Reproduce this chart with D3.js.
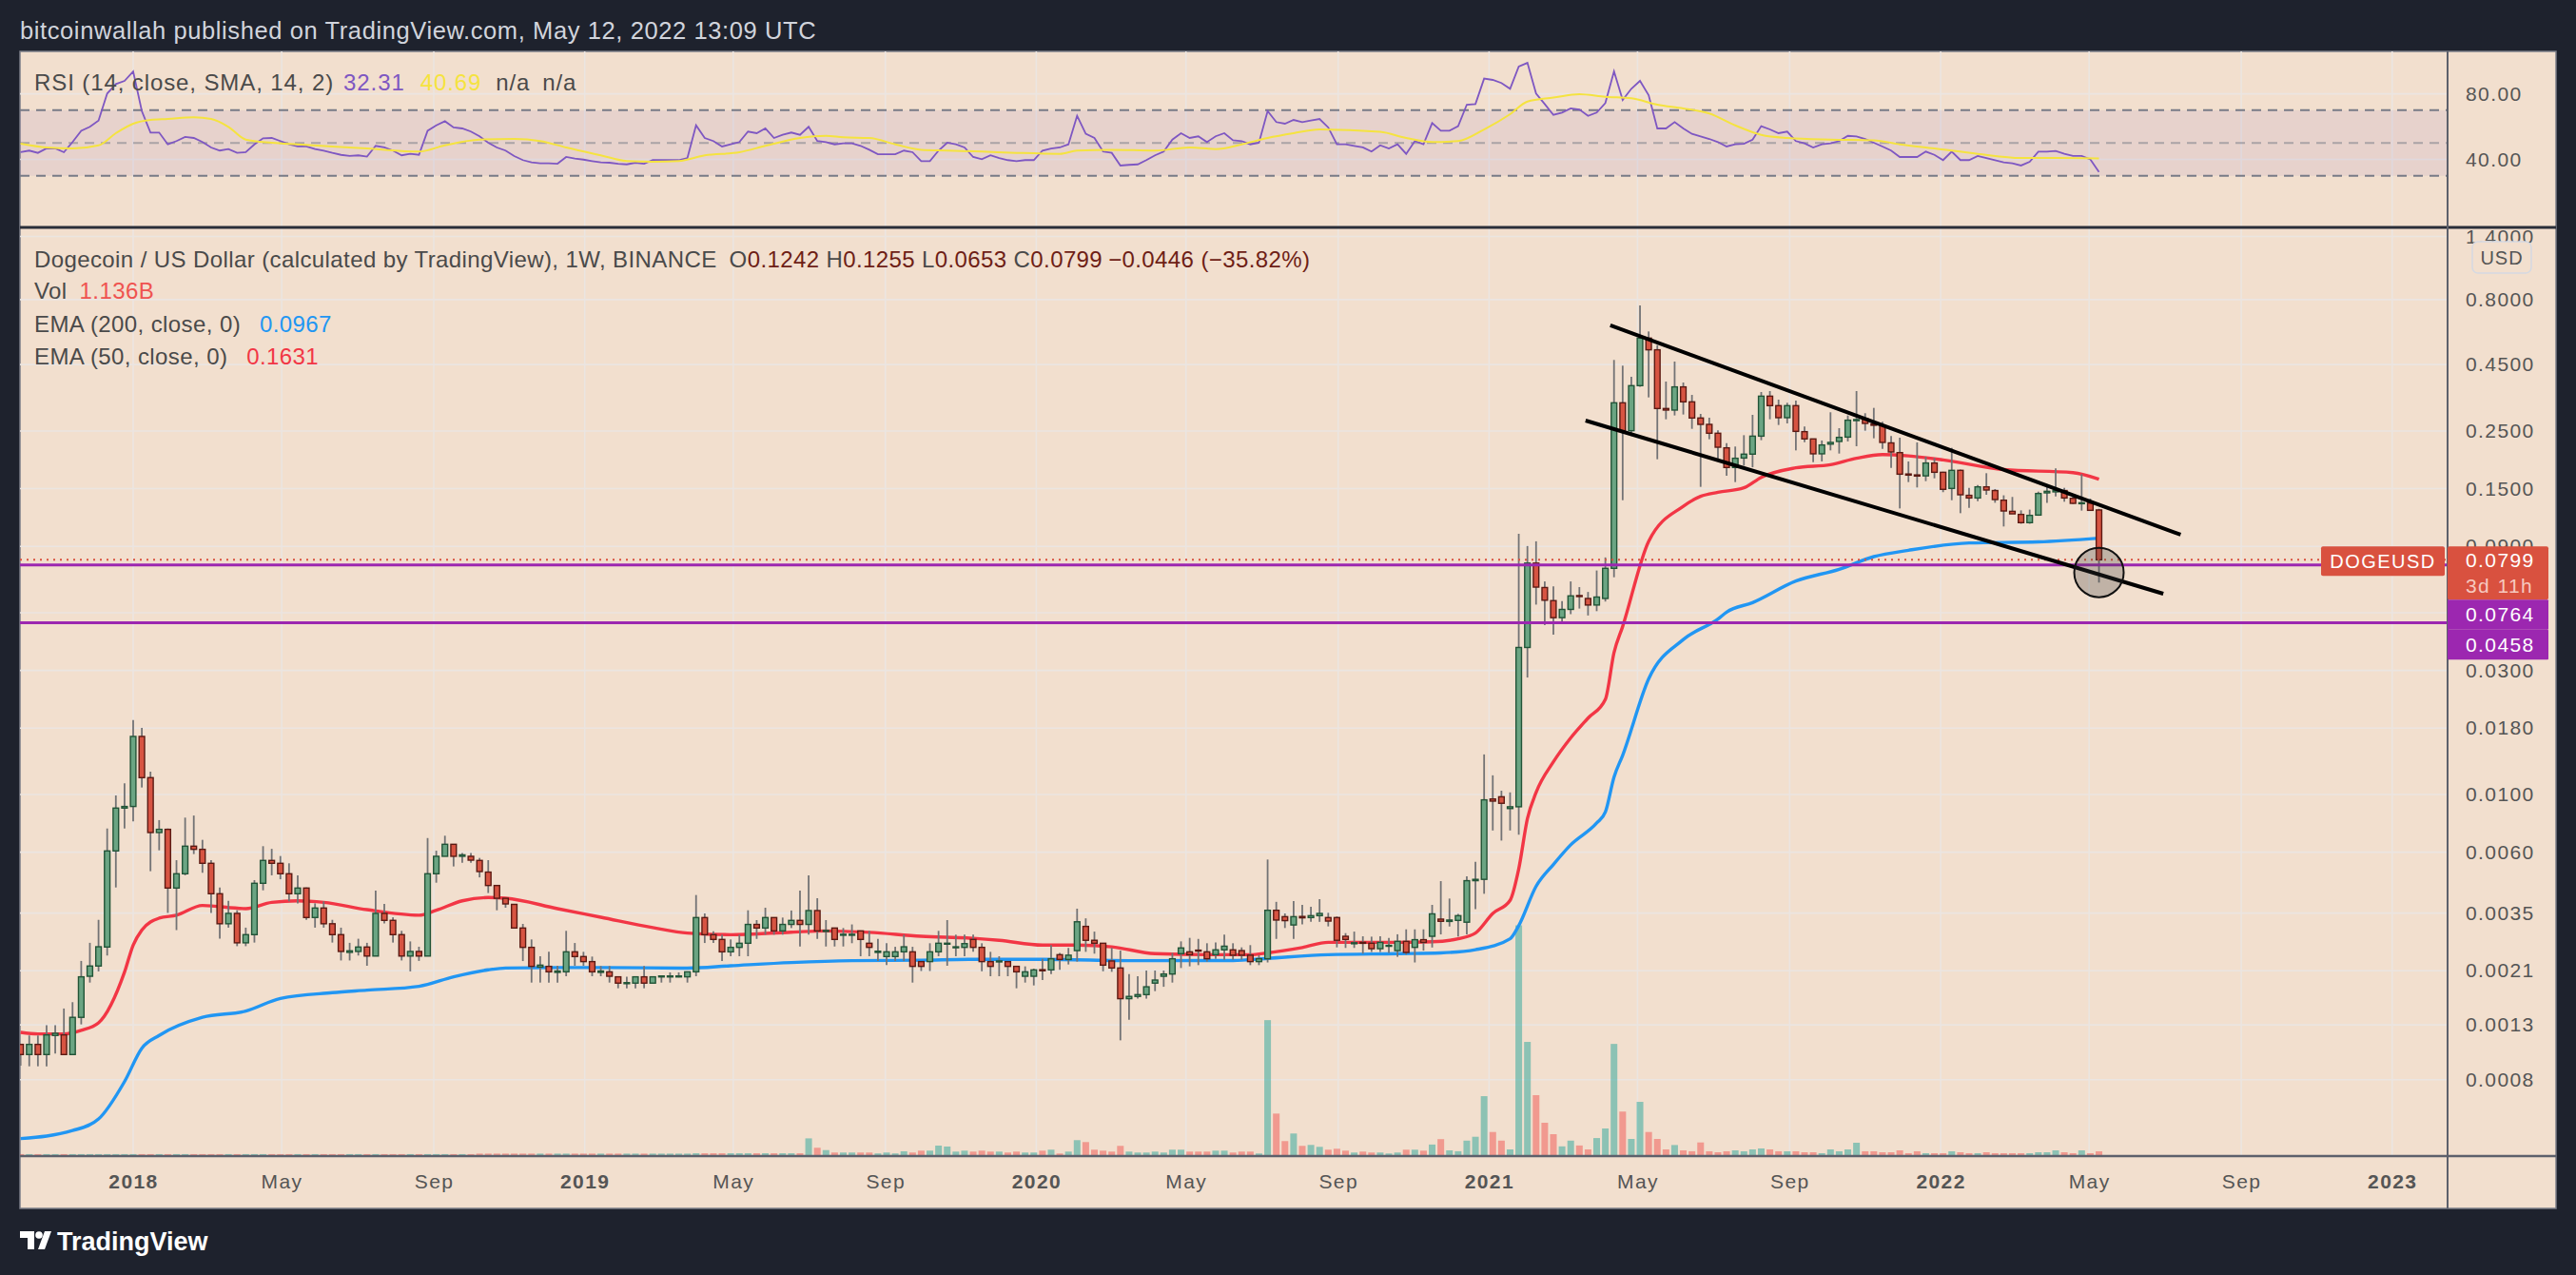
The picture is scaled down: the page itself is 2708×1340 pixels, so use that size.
<!DOCTYPE html>
<html>
<head>
<meta charset="utf-8">
<title>DOGEUSD 1W</title>
<script src="https://cdn.jsdelivr.net/npm/d3@7"></script>
<style>
  html, body { margin: 0; padding: 0; background: #1e222d; }
  svg { display: block; font-family: "Liberation Sans", Arial, sans-serif; }
</style>
</head>
<body>
<svg id="chart"></svg>
<script>
// weekly bars, bar 0 = week of 2 Oct 2017, last bar = week of 9 May 2022
const firstWeek = Date.UTC(2017, 9, 2);
const WEEK = 7 * 864e5;

const open = [
  0.001094, 0.001000, 0.001094, 0.001000, 0.001184, 0.001190, 0.001000, 0.001390, 0.002000, 0.002190,
  0.002591, 0.006067, 0.008867, 0.008993, 0.01672, 0.01161, 0.00714, 0.007345, 0.004368, 0.004957,
  0.006328, 0.006153, 0.005438, 0.004153, 0.003184, 0.00349, 0.002689, 0.002891, 0.004556, 0.005577,
  0.005438, 0.004957, 0.004153, 0.004368, 0.003365, 0.00366, 0.003184, 0.002891, 0.002471, 0.002491,
  0.002591, 0.002392, 0.00349, 0.003281, 0.002891, 0.002392, 0.002491, 0.002392, 0.004957, 0.005785,
  0.006435, 0.005785, 0.005785, 0.005577, 0.00503, 0.004467, 0.00399, 0.00378, 0.003066, 0.002583,
  0.00217, 0.002183, 0.00207, 0.00208, 0.002483, 0.002381, 0.002277, 0.00207, 0.00208, 0.00199,
  0.001873, 0.001882, 0.00199, 0.001882, 0.001988, 0.001988, 0.001988, 0.00199, 0.00208, 0.003363,
  0.00289, 0.002771, 0.002483, 0.002583, 0.002679, 0.003165, 0.003066, 0.003363, 0.002989, 0.003165,
  0.00328, 0.003165, 0.003578, 0.00298, 0.003066, 0.00288, 0.00288, 0.002989, 0.002679, 0.00247,
  0.002381, 0.002381, 0.002483, 0.002483, 0.002277, 0.002277, 0.002483, 0.00267, 0.00258, 0.002583,
  0.002771, 0.002583, 0.002277, 0.002277, 0.002277, 0.002183, 0.002, 0.002, 0.00212, 0.002116,
  0.002421, 0.00232, 0.00251, 0.00311, 0.00275, 0.002679, 0.00229, 0.002152, 0.00164, 0.001673,
  0.0017, 0.001882, 0.002, 0.00204, 0.002443, 0.002483, 0.00252, 0.002483, 0.002421, 0.002527,
  0.002527, 0.00251, 0.00241, 0.002277, 0.002335, 0.003587, 0.00339, 0.00315, 0.003396, 0.003363,
  0.00342, 0.003363, 0.003363, 0.002849, 0.00267, 0.0027, 0.002679, 0.002553, 0.00261, 0.00251,
  0.002724, 0.002583, 0.002765, 0.002849, 0.003317, 0.00325, 0.00328, 0.003228, 0.004662, 0.004717,
  0.00961, 0.0098, 0.00883, 0.00897, 0.03676, 0.07758, 0.0625, 0.05565, 0.04786, 0.05149,
  0.0582, 0.05672, 0.05353, 0.05672, 0.07407, 0.3208, 0.2506, 0.3734, 0.5689, 0.5129,
  0.305, 0.3008, 0.3693, 0.3235, 0.2804, 0.265, 0.245, 0.2153, 0.1809, 0.1967,
  0.2036, 0.2388, 0.3402, 0.3128, 0.2812, 0.3128, 0.2485, 0.233, 0.2042, 0.2225,
  0.2278, 0.2368, 0.274, 0.279, 0.266, 0.2621, 0.2249, 0.2064, 0.1708, 0.1694,
  0.168, 0.1882, 0.1734, 0.1503, 0.1764, 0.1414, 0.1381, 0.1524, 0.1475, 0.1354,
  0.1227, 0.1194, 0.111, 0.1187, 0.1445, 0.1458, 0.1475, 0.1377, 0.1314, 0.132,
  0.1242
];
const high = [
  0.001094, 0.001184, 0.001184, 0.001295, 0.001295, 0.001503, 0.00159, 0.002291, 0.002689, 0.003296,
  0.0074, 0.009917, 0.01104, 0.01935, 0.01804, 0.01224, 0.00797, 0.0074, 0.00559, 0.008149,
  0.0083, 0.006693, 0.00559, 0.00439, 0.0039, 0.003589, 0.003076, 0.004686, 0.006328, 0.00618,
  0.0058, 0.005438, 0.004888, 0.00439, 0.003815, 0.003882, 0.003296, 0.003076, 0.002689, 0.002788,
  0.002689, 0.004271, 0.003797, 0.00337, 0.00299, 0.002723, 0.002597, 0.0068, 0.00608, 0.006942,
  0.006435, 0.00595, 0.00595, 0.005703, 0.005591, 0.004467, 0.00399, 0.00378, 0.00318, 0.002771,
  0.002388, 0.002483, 0.002195, 0.00299, 0.002685, 0.002483, 0.002381, 0.00219, 0.00219, 0.00199,
  0.00199, 0.00199, 0.00219, 0.00199, 0.002005, 0.00207, 0.00207, 0.00208, 0.004106, 0.003488,
  0.00298, 0.00289, 0.002771, 0.00289, 0.003587, 0.003289, 0.003669, 0.003363, 0.003363, 0.00358,
  0.00427, 0.004887, 0.003992, 0.003289, 0.003066, 0.003066, 0.003165, 0.002989, 0.002989, 0.002784,
  0.002679, 0.002596, 0.00289, 0.002596, 0.002277, 0.002679, 0.002989, 0.003289, 0.00289, 0.00289,
  0.00289, 0.002679, 0.002483, 0.002388, 0.002277, 0.002183, 0.002183, 0.00214, 0.002335, 0.002635,
  0.00246, 0.00257, 0.003638, 0.00334, 0.00297, 0.002679, 0.00257, 0.00251, 0.00204, 0.002,
  0.002104, 0.002104, 0.002104, 0.00246, 0.002724, 0.00281, 0.002784, 0.002679, 0.0027, 0.00289,
  0.002679, 0.002583, 0.002635, 0.00241, 0.005623, 0.003865, 0.003488, 0.003892, 0.003764, 0.003701,
  0.003958, 0.003508, 0.003396, 0.00293, 0.00297, 0.002849, 0.00284, 0.002849, 0.00281, 0.0029,
  0.00303, 0.00303, 0.00303, 0.003764, 0.004644, 0.00398, 0.003475, 0.004846, 0.005507, 0.01426,
  0.01185, 0.01034, 0.01019, 0.1006, 0.09024, 0.0941, 0.06597, 0.06321, 0.05542, 0.06597,
  0.06273, 0.0601, 0.07267, 0.08159, 0.4688, 0.4457, 0.404, 0.7597, 0.6034, 0.5349,
  0.3873, 0.4623, 0.384, 0.344, 0.2908, 0.2812, 0.2513, 0.2246, 0.2178, 0.2408,
  0.2884, 0.3529, 0.356, 0.33, 0.3208, 0.3272, 0.26, 0.233, 0.2298, 0.295,
  0.2563, 0.2868, 0.356, 0.2925, 0.3067, 0.2711, 0.2388, 0.2355, 0.1908, 0.2259,
  0.1991, 0.1968, 0.1742, 0.2153, 0.1776, 0.1511, 0.155, 0.172, 0.1495, 0.1414,
  0.1394, 0.1238, 0.1246, 0.1461, 0.1524, 0.1794, 0.1511, 0.1417, 0.1705, 0.1374,
  0.1255
];
const low = [
  0.000906, 0.000901, 0.000901, 0.000901, 0.001008, 0.001, 0.001, 0.001306, 0.001891, 0.002088,
  0.002403, 0.00439, 0.0074, 0.007877, 0.01064, 0.00507, 0.0061, 0.003505, 0.00301, 0.004888,
  0.0059, 0.005, 0.003505, 0.002788, 0.003076, 0.00261, 0.00261, 0.002695, 0.00428, 0.004888,
  0.00472, 0.003882, 0.003815, 0.003296, 0.003076, 0.003076, 0.002695, 0.0023, 0.0023, 0.002403,
  0.002195, 0.002392, 0.00319, 0.002695, 0.0023, 0.002088, 0.002291, 0.002392, 0.00458, 0.005785,
  0.005288, 0.00546, 0.00546, 0.0048, 0.00418, 0.003587, 0.003669, 0.003066, 0.002288, 0.001891,
  0.001891, 0.001891, 0.001891, 0.002, 0.002195, 0.002195, 0.002, 0.002, 0.001891, 0.001798,
  0.001798, 0.001798, 0.001798, 0.001882, 0.001891, 0.001891, 0.00198, 0.001891, 0.002, 0.002685,
  0.002685, 0.002288, 0.002388, 0.002388, 0.002388, 0.002784, 0.00289, 0.00289, 0.00289, 0.003066,
  0.002603, 0.00289, 0.002784, 0.002603, 0.002603, 0.002603, 0.00268, 0.002388, 0.002388, 0.002288,
  0.002207, 0.002288, 0.002288, 0.001891, 0.002095, 0.002095, 0.002388, 0.002195, 0.002388, 0.002388,
  0.002483, 0.00209, 0.002, 0.002, 0.002, 0.001798, 0.001891, 0.001844, 0.001934, 0.00204,
  0.002116, 0.00222, 0.002277, 0.002483, 0.002443, 0.00209, 0.00208, 0.001134, 0.001361, 0.00164,
  0.00164, 0.001753, 0.001822, 0.001891, 0.002152, 0.002183, 0.002207, 0.002277, 0.002335, 0.002315,
  0.002315, 0.002315, 0.002207, 0.002207, 0.00226, 0.002784, 0.003066, 0.002784, 0.003165, 0.003238,
  0.003238, 0.00311, 0.002583, 0.00257, 0.00257, 0.002443, 0.00248, 0.00248, 0.00246, 0.002375,
  0.002421, 0.00226, 0.00251, 0.00258, 0.002897, 0.003107, 0.002842, 0.002897, 0.003626, 0.004151,
  0.00727, 0.00665, 0.00727, 0.007, 0.02817, 0.05373, 0.04481, 0.04115, 0.04516, 0.04936,
  0.05188, 0.04879, 0.0507, 0.05521, 0.06845, 0.1354, 0.2388, 0.3693, 0.3365, 0.1946,
  0.2772, 0.2868, 0.2892, 0.2548, 0.1524, 0.2323, 0.1946, 0.1681, 0.159, 0.184,
  0.1813, 0.2304, 0.2772, 0.2636, 0.2673, 0.2105, 0.2265, 0.1897, 0.191, 0.2105,
  0.2047, 0.2278, 0.2184, 0.2506, 0.2343, 0.2135, 0.1804, 0.1259, 0.159, 0.1516,
  0.1603, 0.1644, 0.1454, 0.1354, 0.1207, 0.1266, 0.1343, 0.1421, 0.1324, 0.1073,
  0.12, 0.1099, 0.1099, 0.118, 0.1324, 0.1401, 0.1336, 0.131, 0.1235, 0.1231,
  0.0653
];
const close = [
  0.001, 0.001094, 0.001, 0.00119, 0.001207, 0.001, 0.00139, 0.00199, 0.00219, 0.002597,
  0.006067, 0.008867, 0.008993, 0.01672, 0.01161, 0.00714, 0.007345, 0.004368, 0.004957, 0.006328,
  0.006153, 0.005438, 0.004153, 0.003184, 0.00349, 0.002689, 0.002891, 0.004556, 0.005577, 0.005438,
  0.004957, 0.004153, 0.004368, 0.003365, 0.00366, 0.003184, 0.002891, 0.002491, 0.002505, 0.002591,
  0.002392, 0.00349, 0.003281, 0.002891, 0.002392, 0.002491, 0.002392, 0.004957, 0.005785, 0.006435,
  0.005785, 0.00586, 0.00559, 0.005054, 0.004467, 0.00399, 0.003795, 0.003066, 0.002583, 0.002183,
  0.002207, 0.00208, 0.002095, 0.002483, 0.002381, 0.002277, 0.00208, 0.002095, 0.002, 0.001882,
  0.00189, 0.00199, 0.001882, 0.00199, 0.002005, 0.002005, 0.002005, 0.00208, 0.003363, 0.00289,
  0.002771, 0.002483, 0.002583, 0.002679, 0.003165, 0.003066, 0.003363, 0.002989, 0.003165, 0.00328,
  0.003165, 0.003578, 0.002989, 0.003, 0.002771, 0.0029, 0.0029, 0.002771, 0.002583, 0.002497,
  0.002483, 0.002483, 0.002596, 0.002183, 0.002183, 0.002483, 0.002679, 0.00268, 0.002596, 0.00267,
  0.002583, 0.002277, 0.002183, 0.00229, 0.002183, 0.00208, 0.00208, 0.002116, 0.0021, 0.002335,
  0.00232, 0.00241, 0.00324, 0.00275, 0.002679, 0.002207, 0.002152, 0.00164, 0.001673, 0.0017,
  0.001822, 0.001934, 0.00204, 0.002335, 0.00257, 0.002421, 0.0025, 0.002335, 0.002527, 0.00261,
  0.00241, 0.00241, 0.002277, 0.002335, 0.003587, 0.00329, 0.003273, 0.00339, 0.003355, 0.00342,
  0.003488, 0.00326, 0.00275, 0.002771, 0.00269, 0.00268, 0.002553, 0.0027, 0.00263, 0.002724,
  0.00247, 0.002765, 0.0027, 0.003475, 0.003254, 0.00329, 0.00342, 0.004662, 0.004717, 0.009537,
  0.00943, 0.00925, 0.00897, 0.03676, 0.07758, 0.06273, 0.05585, 0.04786, 0.05149, 0.05805,
  0.0577, 0.05353, 0.05745, 0.07409, 0.3208, 0.2506, 0.3734, 0.5689, 0.5129, 0.305,
  0.3008, 0.3693, 0.3235, 0.2804, 0.265, 0.245, 0.2165, 0.1809, 0.1963, 0.2036,
  0.2388, 0.3402, 0.3128, 0.2812, 0.3128, 0.2491, 0.233, 0.2042, 0.2208, 0.2259,
  0.2362, 0.275, 0.2765, 0.2673, 0.2629, 0.2259, 0.2076, 0.1705, 0.1691, 0.1677,
  0.1882, 0.1734, 0.1491, 0.1764, 0.1421, 0.1381, 0.1524, 0.1482, 0.1362, 0.1231,
  0.12, 0.111, 0.1184, 0.1437, 0.1465, 0.1478, 0.1381, 0.1317, 0.1324, 0.1238,
  0.0799
];
// volume, billions
const volume = [
  0.3, 0.3, 0.3, 0.3, 0.3, 0.3, 0.3, 0.3, 0.3, 0.3,
  0.3, 0.3, 0.3, 0.3, 0.3, 0.3, 0.3, 0.3, 0.3, 0.3,
  0.3, 0.3, 0.3, 0.3, 0.3, 0.3, 0.3, 0.3, 0.3, 0.3,
  0.3, 0.3, 0.3, 0.3, 0.3, 0.3, 0.3, 0.3, 0.3, 0.3,
  0.3, 0.3, 0.3, 0.3, 0.3, 0.3, 0.3, 0.3, 0.3, 0.3,
  0.3, 0.3, 0.3, 0.45, 0.45, 0.45, 0.45, 0.45, 0.45, 0.45,
  0.45, 0.45, 0.45, 0.45, 0.45, 0.45, 0.45, 0.45, 0.45, 0.45,
  0.45, 0.45, 0.45, 0.45, 0.45, 0.45, 0.45, 0.45, 0.55, 0.55,
  0.55, 0.55, 0.55, 0.55, 0.55, 0.55, 0.55, 0.55, 0.55, 0.55,
  0.55, 5.0, 2.2, 1.5, 0.77, 0.77, 0.77, 0.77, 0.77, 0.5,
  0.77, 0.5, 1.14, 0.77, 1.33, 1.33, 2.84, 2.56, 1.05, 1.33,
  1.05, 1.33, 1.05, 1.05, 0.77, 1.05, 0.77, 0.77, 1.33, 1.62,
  0.48, 1.05, 4.46, 3.89, 1.62, 1.33, 1.05, 2.76, 1.05, 0.77,
  0.77, 1.05, 0.77, 1.62, 1.62, 1.05, 1.05, 1.05, 1.33, 1.33,
  0.77, 1.05, 1.05, 0.48, 40.3, 12.4, 4.18, 6.45, 2.76, 3.04,
  2.47, 1.62, 1.9, 1.33, 0.77, 1.05, 0.77, 0.77, 0.48, 0.77,
  1.62, 1.62, 1.33, 3.15, 4.77, 1.42, 1.16, 4.32, 5.48, 17.6,
  6.9, 4.32, 1.7, 68.6, 33.8, 17.9, 9.66, 6.25, 2.61, 4.32,
  2.87, 1.7, 5.09, 7.95, 33.2, 13.0, 4.83, 15.9, 6.9, 4.83,
  1.7, 3.01, 1.42, 1.16, 3.78, 1.14, 0.85, 1.14, 1.42, 1.14,
  1.7, 1.99, 1.7, 1.14, 1.14, 1.14, 0.85, 0.85, 0.57, 1.7,
  1.14, 1.7, 3.69, 1.14, 1.14, 0.85, 0.85, 1.42, 0.57, 1.14,
  0.57, 0.57, 0.57, 1.14, 0.85, 0.57, 0.57, 0.85, 0.57, 0.57,
  0.57, 0.57, 0.57, 0.85, 0.85, 1.42, 0.85, 0.57, 1.42, 0.57,
  1.136
];
// RSI(14) per bar
const rsi = [
  44.4, 45.4, 44.0, 46.7, 46.7, 44.4, 50.6, 57.5, 59.9, 63.7,
  80.2, 86.0, 87.9, 93.7, 69.5, 56.4, 56.4, 49.2, 51.2, 53.7,
  53.1, 50.6, 47.3, 45.4, 46.3, 44.0, 44.4, 49.2, 52.9, 53.1,
  51.2, 49.2, 47.9, 47.9, 46.3, 45.4, 44.0, 42.8, 42.1, 42.5,
  41.7, 48.3, 47.3, 45.4, 42.5, 43.4, 42.8, 57.5, 60.8, 63.3,
  59.5, 58.9, 57.0, 54.1, 50.2, 47.3, 45.4, 42.1, 39.6, 38.2,
  37.6, 37.6, 37.4, 41.5, 40.5, 39.9, 39.0, 38.2, 38.0, 37.4,
  37.0, 38.0, 37.4, 39.6, 39.6, 39.6, 39.6, 40.9, 60.8, 53.1,
  51.2, 47.9, 49.2, 50.6, 57.0, 56.0, 58.9, 53.1, 55.0, 56.4,
  55.0, 59.9, 51.2, 50.6, 49.2, 49.8, 49.8, 48.3, 45.9, 43.2,
  43.2, 43.2, 45.4, 44.4, 39.0, 39.0, 45.4, 50.2, 49.2, 47.3,
  41.5, 40.1, 42.5, 40.9, 39.6, 39.0, 39.6, 39.6, 45.4, 46.7,
  47.3, 49.2, 66.6, 55.6, 53.1, 44.8, 44.0, 36.3, 36.7, 37.0,
  39.6, 42.5, 44.8, 52.1, 56.0, 53.1, 54.1, 50.6, 54.1, 56.0,
  51.7, 51.2, 49.2, 50.2, 69.5, 62.8, 61.8, 64.1, 62.8, 63.7,
  64.7, 59.5, 49.2, 49.2, 48.3, 47.3, 44.8, 48.6, 46.7, 49.2,
  43.4, 51.2, 49.2, 62.2, 57.5, 57.5, 60.3, 73.4, 73.8, 89.3,
  88.5, 86.6, 83.1, 96.6, 98.9, 80.2, 73.8, 67.2, 68.6, 71.1,
  70.5, 66.6, 68.6, 74.4, 93.7, 76.3, 83.1, 87.9, 79.2, 58.9,
  58.9, 62.8, 58.9, 55.6, 54.1, 52.5, 50.6, 47.9, 49.2, 49.6,
  52.1, 60.3, 58.3, 56.0, 57.0, 51.2, 49.8, 47.3, 49.2, 49.8,
  51.2, 54.4, 54.1, 52.5, 50.2, 47.9, 45.4, 41.5, 41.5, 41.5,
  44.8, 42.8, 39.6, 44.8, 39.6, 39.6, 42.1, 40.9, 39.6, 38.2,
  37.6, 36.3, 38.6, 44.8, 44.8, 45.2, 43.4, 42.1, 42.1, 40.1,
  32.31
];
// RSI-based SMA(14), read at these bars
const rsiMaWeek = [0, 3, 6, 9, 11, 13, 15, 17, 20, 22, 24, 26, 29, 32, 36, 40, 46, 49, 53, 57, 60, 63, 67, 70, 73, 76, 79, 83, 86, 90, 93, 95, 98, 101, 104, 107, 111, 115, 120, 122, 126, 131, 135, 138, 141, 144, 147, 150, 157, 160, 163, 166, 169, 172, 174, 177, 180, 183, 186, 189, 192, 195, 198, 201, 204, 209, 214, 217, 221, 226, 231, 235, 240];
const rsiMa = [49.6, 47.3, 46.7, 48.6, 56.0, 61.8, 64.1, 64.7, 65.7, 64.7, 59.9, 52.1, 50.2, 49.2, 47.9, 46.7, 44.8, 48.6, 52.1, 52.5, 51.2, 47.3, 42.5, 39.0, 38.6, 39.0, 42.5, 44.4, 48.3, 53.1, 54.4, 53.5, 53.1, 49.2, 45.9, 45.4, 44.8, 44.0, 43.4, 45.4, 45.9, 45.4, 47.3, 46.3, 49.2, 53.1, 56.0, 58.3, 56.8, 53.1, 50.6, 51.2, 58.3, 67.6, 75.3, 77.7, 79.8, 78.2, 77.3, 73.4, 71.1, 68.0, 60.8, 55.0, 53.1, 52.1, 51.7, 49.2, 46.7, 43.4, 40.9, 40.9, 40.69];
// EMA 50 and EMA 200, read at these bars
const ema50Week = [0, 2, 5, 7, 9, 12, 13, 14, 16, 18, 21, 26, 29, 32, 35, 40, 46, 48, 51, 54, 56, 62, 67, 73, 77, 82, 89, 93, 98, 104, 110, 113, 118, 122, 126, 131, 137, 142, 144, 148, 151, 159, 163, 166, 168, 170, 172, 173, 174, 175, 177, 179, 181, 183, 184, 185, 188, 192, 194, 196, 199, 201, 205, 209, 212, 215, 218, 222, 229, 237, 240];
const ema50 = [0.001217, 0.0012, 0.0012, 0.00124, 0.001324, 0.002075, 0.002635, 0.00301, 0.003345, 0.003435, 0.003743, 0.00364, 0.003849, 0.0039, 0.003849, 0.003607, 0.003435, 0.003589, 0.0039, 0.004015, 0.003992, 0.003638, 0.003373, 0.003078, 0.002931, 0.00289, 0.002955, 0.002989, 0.00295, 0.002849, 0.0028, 0.00275, 0.002635, 0.002635, 0.002596, 0.002443, 0.002421, 0.002421, 0.00246, 0.00258, 0.0027, 0.0027, 0.002714, 0.002788, 0.002932, 0.003488, 0.003917, 0.005176, 0.008075, 0.01018, 0.01335, 0.01651, 0.01966, 0.02321, 0.03511, 0.04429, 0.0941, 0.1283, 0.1401, 0.1452, 0.1511, 0.1658, 0.1804, 0.1855, 0.1963, 0.2029, 0.2005, 0.1935, 0.1776, 0.1729, 0.1631];
const ema200Week = [0, 6, 9, 12, 14, 16, 21, 26, 30, 36, 40, 46, 50, 54, 56, 62, 67, 77, 82, 89, 96, 104, 110, 118, 129, 140, 144, 151, 159, 164, 168, 172, 173, 175, 177, 179, 182, 183, 184, 185, 188, 192, 196, 197, 200, 205, 210, 214, 218, 225, 233, 240];
const ema200 = [0.000475, 0.00051, 0.000565, 0.000787, 0.001057, 0.001184, 0.00139, 0.001469, 0.001643, 0.001729, 0.001768, 0.001829, 0.00199, 0.002117, 0.002152, 0.00216, 0.00216, 0.00215, 0.002195, 0.002258, 0.002296, 0.002306, 0.002323, 0.002323, 0.002296, 0.0023, 0.002343, 0.002421, 0.002443, 0.00246, 0.00253, 0.002788, 0.003131, 0.004434, 0.00538, 0.006403, 0.007769, 0.008557, 0.01167, 0.01415, 0.02784, 0.03944, 0.04729, 0.05027, 0.05469, 0.06619, 0.07344, 0.08216, 0.08692, 0.09271, 0.0936, 0.0967];

// axis ticks and drawn levels
const priceTicks = [1.4, 0.8, 0.45, 0.25, 0.15, 0.09, 0.05, 0.03, 0.018, 0.01, 0.006, 0.0035, 0.0021, 0.0013, 0.0008];
const rsiTicks = [80, 40];
const rsiBands = [70, 50, 30];
const levels = [0.0764, 0.0458];
const lastPrice = 0.0799;
// falling channel drawn on the chart: [date, price] end points
const channelUpper = [[Date.UTC(2021, 3, 9), 0.6366], [Date.UTC(2022, 6, 14), 0.0998]];
const channelLower = [[Date.UTC(2021, 2, 20), 0.2742], [Date.UTC(2022, 5, 30), 0.05916]];
const circleMark = [Date.UTC(2022, 4, 9), 0.0714];

// ---------- layout ----------
const W = 2708, H = 1340;
const frameL = 21, frameR = 2687, frameT = 54, frameB = 1270;
const plotR = 2573, rsiB = 239, priceB = 1215;
const peach = "#f2dfce", grid = "#ebe5e1", textGrey = "#4a4a4a";
const upFill = "#6ba583", upLine = "#225437", dnFill = "#d75442", dnLine = "#5b1a13";

const weekDate = w => new Date(firstWeek + w * WEEK);
const bars = open.map((o, i) => ({
  date: weekDate(i), o, h: high[i], l: low[i], c: close[i], v: volume[i], r: rsi[i]
}));

const x = d3.scaleUtc()
  .domain([new Date(Date.UTC(2017, 9, 1, 12)), new Date(Date.UTC(2023, 1, 14, 19))])
  .range([frameL, plotR]);
const y = d3.scaleLog().domain([0.000407, 1.516]).range([priceB, rsiB]);
const yR = d3.scaleLinear().domain([-1.45, 105.9]).range([rsiB, frameT]);
const yV = d3.scaleLinear().domain([0, 100]).range([priceB - 1, priceB - 353]);

const svg = d3.select("#chart").attr("width", W).attr("height", H);
svg.append("rect").attr("width", W).attr("height", H).attr("fill", "#1e222d");

svg.append("text").attr("x", frameL).attr("y", 41)
  .attr("font-size", 25.5).attr("fill", "#d1d4dc").style("letter-spacing", "0.6px")
  .text("bitcoinwallah published on TradingView.com, May 12, 2022 13:09 UTC");

svg.append("rect").attr("x", frameL).attr("y", frameT)
  .attr("width", frameR - frameL).attr("height", frameB - frameT)
  .attr("fill", peach).attr("stroke", "#7b7e88").attr("stroke-width", 1.5);

const defs = svg.append("defs");
defs.append("clipPath").attr("id", "clipPrice").append("rect")
  .attr("x", frameL).attr("y", rsiB).attr("width", plotR - frameL).attr("height", priceB - rsiB);
defs.append("clipPath").attr("id", "clipRsi").append("rect")
  .attr("x", frameL).attr("y", frameT).attr("width", plotR - frameL).attr("height", rsiB - frameT);

// ---------- grid ----------
const timeTicks = d3.utcMonth.every(4).range(x.domain()[0], x.domain()[1]);
const gGrid = svg.append("g").attr("stroke", grid).attr("stroke-width", 1.6);
gGrid.selectAll("line.v").data(timeTicks).join("line")
  .attr("x1", d => x(d)).attr("x2", d => x(d)).attr("y1", frameT).attr("y2", priceB);
gGrid.selectAll("line.p").data(priceTicks).join("line")
  .attr("x1", frameL).attr("x2", plotR).attr("y1", d => y(d)).attr("y2", d => y(d));
gGrid.selectAll("line.r").data(rsiTicks).join("line")
  .attr("x1", frameL).attr("x2", plotR).attr("y1", d => yR(d)).attr("y2", d => yR(d));

// ---------- RSI pane ----------
const gR = svg.append("g").attr("clip-path", "url(#clipRsi)");
gR.append("rect").attr("x", frameL).attr("width", plotR - frameL)
  .attr("y", yR(rsiBands[0])).attr("height", yR(rsiBands[2]) - yR(rsiBands[0]))
  .attr("fill", "rgba(126,87,194,0.09)");
gR.selectAll("line.band").data(rsiBands).join("line")
  .attr("x1", frameL).attr("x2", plotR).attr("y1", d => yR(d)).attr("y2", d => yR(d))
  .attr("stroke", d => d === 50 ? "rgba(120,123,134,0.55)" : "#787b86")
  .attr("stroke-width", 2).attr("stroke-dasharray", "10,7");
gR.append("path").datum(bars)
  .attr("d", d3.line().x(d => x(d.date)).y(d => yR(d.r)))
  .attr("fill", "none").attr("stroke", "#7e57c2").attr("stroke-width", 1.8);
gR.append("path").datum(rsiMaWeek.map((w, i) => [weekDate(w), rsiMa[i]]))
  .attr("d", d3.line().x(d => x(d[0])).y(d => yR(d[1])).curve(d3.curveMonotoneX))
  .attr("fill", "none").attr("stroke", "#f5e33f").attr("stroke-width", 2);

// ---------- price pane ----------
const gP = svg.append("g").attr("clip-path", "url(#clipPrice)");
const bw = 7;
gP.selectAll("rect.vol").data(bars).join("rect")
  .attr("x", d => x(d.date) - bw / 2).attr("width", bw)
  .attr("y", d => yV(d.v)).attr("height", d => yV(0) - yV(d.v))
  .attr("fill", d => d.c >= d.o ? "rgba(38,166,154,0.5)" : "rgba(239,83,80,0.5)");

const emaLine = d3.line().x(d => x(d[0])).y(d => y(d[1])).curve(d3.curveMonotoneX);
gP.append("path").datum(ema200Week.map((w, i) => [weekDate(w), ema200[i]]))
  .attr("d", emaLine).attr("fill", "none").attr("stroke", "#2196f3").attr("stroke-width", 3.4);
gP.append("path").datum(ema50Week.map((w, i) => [weekDate(w), ema50[i]]))
  .attr("d", emaLine).attr("fill", "none").attr("stroke", "#f23645").attr("stroke-width", 3.4);

gP.selectAll("line.wick").data(bars).join("line")
  .attr("x1", d => x(d.date)).attr("x2", d => x(d.date))
  .attr("y1", d => y(d.h)).attr("y2", d => y(d.l))
  .attr("stroke", "#737375").attr("stroke-width", 1.8);
gP.selectAll("rect.body").data(bars).join("rect")
  .attr("x", d => x(d.date) - bw / 2 + 0.6).attr("width", bw - 1.2)
  .attr("y", d => y(Math.max(d.o, d.c)))
  .attr("height", d => Math.max(1, y(Math.min(d.o, d.c)) - y(Math.max(d.o, d.c))))
  .attr("fill", d => d.c >= d.o ? upFill : dnFill)
  .attr("stroke", d => d.c >= d.o ? upLine : dnLine).attr("stroke-width", 1.4);

// drawings
gP.append("line").attr("x1", frameL).attr("x2", plotR)
  .attr("y1", y(lastPrice)).attr("y2", y(lastPrice))
  .attr("stroke", "#d9513f").attr("stroke-width", 2).attr("stroke-dasharray", "2,5");
gP.selectAll("line.level").data(levels).join("line")
  .attr("x1", frameL).attr("x2", plotR).attr("y1", d => y(d)).attr("y2", d => y(d))
  .attr("stroke", "#9c27b0").attr("stroke-width", 3);
gP.selectAll("line.chan").data([channelUpper, channelLower]).join("line")
  .attr("x1", d => x(d[0][0])).attr("y1", d => y(d[0][1]))
  .attr("x2", d => x(d[1][0])).attr("y2", d => y(d[1][1]))
  .attr("stroke", "#000").attr("stroke-width", 4);
gP.append("circle").attr("cx", x(circleMark[0])).attr("cy", y(circleMark[1])).attr("r", 26)
  .attr("fill", "rgba(60,60,60,0.27)").attr("stroke", "#111").attr("stroke-width", 2);

// ---------- axes ----------
const axisFont = g => g.selectAll("text")
  .attr("fill", "#555").attr("font-size", 21).style("letter-spacing", "1.4px")
  .attr("font-family", "'Liberation Sans', Arial, sans-serif");

// price labels hidden behind the axis tags are not printed; their grid lines stay
const hiddenTicks = [0.05];
const gY = svg.append("g").attr("transform", `translate(${plotR},0)`)
  .call(d3.axisRight(y).tickValues(priceTicks.filter(t => !hiddenTicks.includes(t)))
    .tickFormat(d3.format(".4f")).tickSize(0).tickPadding(19));
gY.select(".domain").remove();
axisFont(gY);

const gYR = svg.append("g").attr("transform", `translate(${plotR},0)`)
  .call(d3.axisRight(yR).tickValues(rsiTicks).tickFormat(d3.format(".2f")).tickSize(0).tickPadding(19));
gYR.select(".domain").remove();
axisFont(gYR);

const gX = svg.append("g").attr("transform", `translate(0,${priceB})`)
  .call(d3.axisBottom(x).tickValues(timeTicks)
    .tickFormat(d => d.getUTCMonth() === 0 ? d.getUTCFullYear() : d3.utcFormat("%b")(d))
    .tickSize(0).tickPadding(19));
gX.select(".domain").remove();
axisFont(gX);
gX.selectAll(".tick text").attr("font-weight", d => d.getUTCMonth() === 0 ? "bold" : "normal");

// separators
svg.append("line").attr("x1", frameL).attr("x2", frameR).attr("y1", rsiB).attr("y2", rsiB)
  .attr("stroke", "#2a2e39").attr("stroke-width", 3);
svg.append("line").attr("x1", plotR).attr("x2", plotR).attr("y1", frameT).attr("y2", frameB)
  .attr("stroke", "#5d606b").attr("stroke-width", 2);
svg.append("line").attr("x1", frameL).attr("x2", frameR).attr("y1", priceB).attr("y2", priceB)
  .attr("stroke", "#5d606b").attr("stroke-width", 2.5);

// USD badge over the top price label
svg.append("rect").attr("x", 2599).attr("y", 254).attr("width", 62).attr("height", 33).attr("rx", 6)
  .attr("fill", peach).attr("stroke", "#d5d9e2").attr("stroke-width", 1.5);
svg.append("text").attr("x", 2630).attr("y", 278).attr("text-anchor", "middle")
  .attr("font-size", 20).attr("fill", "#555").style("letter-spacing", "1px").text("USD");

// price labels on the axis
const redTop = y(lastPrice) - 14;
svg.append("rect").attr("x", 2440).attr("y", redTop).attr("width", 130).attr("height", 31).attr("rx", 2)
  .attr("fill", "#d9513f");
svg.append("text").attr("x", 2505).attr("y", redTop + 23).attr("text-anchor", "middle")
  .attr("font-size", 20).attr("fill", "#fff").style("letter-spacing", "1.5px").text("DOGEUSD");
svg.append("rect").attr("x", plotR).attr("y", redTop).attr("width", 106).attr("height", 56).attr("rx", 2)
  .attr("fill", "#d9513f");
svg.append("text").attr("x", 2592).attr("y", redTop + 22).attr("font-size", 21).attr("fill", "#fff")
  .style("letter-spacing", "1.4px").text(d3.format(".4f")(lastPrice));
svg.append("text").attr("x", 2592).attr("y", redTop + 49).attr("font-size", 21).attr("fill", "#f6c9bf")
  .style("letter-spacing", "1.4px").text("3d 11h");
levels.forEach((lv, i) => {
  const top = redTop + 56 + i * 31.5;
  svg.append("rect").attr("x", plotR).attr("y", top).attr("width", 106).attr("height", 31.5).attr("rx", 1)
    .attr("fill", "#9c27b0");
  svg.append("text").attr("x", 2592).attr("y", top + 23).attr("font-size", 21).attr("fill", "#fff")
    .style("letter-spacing", "1.4px").text(d3.format(".4f")(lv));
});

// ---------- legends ----------
function legendRow(yBase, parts, spacing) {
  const t = svg.append("text").attr("x", 36).attr("y", yBase).attr("font-size", 24)
    .style("letter-spacing", (spacing || 0.4) + "px");
  parts.forEach(([s, col, gap]) => t.append("tspan").attr("dx", gap || 0).attr("fill", col).text(s));
}
const dark = "#6e1e16";
legendRow(95, [["RSI (14, close, SMA, 14, 2)", textGrey], ["32.31", "#7e57c2", 10], ["40.69", "#f5e33f", 16],
  ["n/a", textGrey, 15], ["n/a", textGrey, 13]], 0.9);
legendRow(281, [["Dogecoin / US Dollar (calculated by TradingView), 1W, BINANCE", textGrey],
  ["O", textGrey, 13], ["0.1242", dark], ["H", textGrey, 7], ["0.1255", dark],
  ["L", textGrey, 7], ["0.0653", dark], ["C", textGrey, 7], ["0.0799", dark],
  ["\u22120.0446 (\u221235.82%)", dark, 6]]);
legendRow(314, [["Vol", textGrey], ["1.136B", "#ef5350", 13]]);
legendRow(349, [["EMA (200, close, 0)", textGrey], ["0.0967", "#2196f3", 20]]);
legendRow(383, [["EMA (50, close, 0)", textGrey], ["0.1631", "#f23645", 20]]);

// ---------- footer logo ----------
const logo = svg.append("g").attr("fill", "#ffffff");
logo.append("path").attr("d", "M21 1294 h15 v19 h-7 v-12 h-8 Z");
logo.append("circle").attr("cx", 41).attr("cy", 1298).attr("r", 3.8);
logo.append("path").attr("d", "M40 1313 l7 -19 h7 l-7 19 Z");
svg.append("text").attr("x", 60).attr("y", 1314).attr("font-size", 27).attr("font-weight", "bold")
  .attr("fill", "#ffffff").text("TradingView");
</script>
</body>
</html>
